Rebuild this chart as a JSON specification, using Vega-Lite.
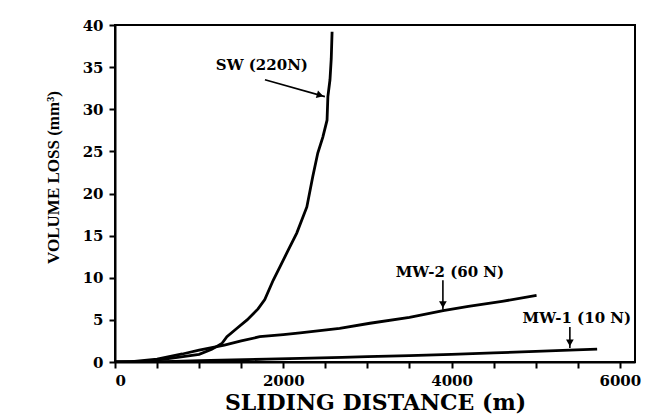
{
  "$schema": "https://vega.github.io/schema/vega-lite/v6.json",
  "width": 520,
  "height": 337,
  "autosize": {"type": "none"},
  "padding": {"left": 115, "top": 25, "right": 11, "bottom": 56},
  "background": "white",
  "config": {
    "view": {"stroke": "black", "strokeWidth": 2},
    "axis": {
      "grid": false,
      "domainColor": "black",
      "domainWidth": 2,
      "tickColor": "black",
      "tickWidth": 2,
      "tickSize": 6,
      "labelFont": "DejaVu Serif",
      "labelFontWeight": "bold",
      "labelFontSize": 15,
      "labelColor": "black",
      "titleFont": "DejaVu Serif",
      "titleFontWeight": "bold",
      "titleColor": "black"
    }
  },
  "datasets": {
    "curves": [
      {"series": "MW-1", "distance": 0, "loss": 0},
      {"series": "MW-1", "distance": 300, "loss": 0.02},
      {"series": "MW-1", "distance": 700, "loss": 0.08},
      {"series": "MW-1", "distance": 1000, "loss": 0.15},
      {"series": "MW-1", "distance": 1400, "loss": 0.24},
      {"series": "MW-1", "distance": 1800, "loss": 0.33},
      {"series": "MW-1", "distance": 2200, "loss": 0.42},
      {"series": "MW-1", "distance": 2700, "loss": 0.55},
      {"series": "MW-1", "distance": 3000, "loss": 0.63},
      {"series": "MW-1", "distance": 3500, "loss": 0.76},
      {"series": "MW-1", "distance": 4000, "loss": 0.9},
      {"series": "MW-1", "distance": 4500, "loss": 1.08},
      {"series": "MW-1", "distance": 5000, "loss": 1.25},
      {"series": "MW-1", "distance": 5400, "loss": 1.42},
      {"series": "MW-1", "distance": 5730, "loss": 1.52},
      {"series": "MW-2", "distance": 0, "loss": 0},
      {"series": "MW-2", "distance": 200, "loss": 0.05},
      {"series": "MW-2", "distance": 500, "loss": 0.35},
      {"series": "MW-2", "distance": 800, "loss": 0.95},
      {"series": "MW-2", "distance": 1000, "loss": 1.4},
      {"series": "MW-2", "distance": 1300, "loss": 2.0},
      {"series": "MW-2", "distance": 1500, "loss": 2.5},
      {"series": "MW-2", "distance": 1720, "loss": 3.0},
      {"series": "MW-2", "distance": 2000, "loss": 3.25},
      {"series": "MW-2", "distance": 2200, "loss": 3.45},
      {"series": "MW-2", "distance": 2670, "loss": 4.0},
      {"series": "MW-2", "distance": 3030, "loss": 4.6},
      {"series": "MW-2", "distance": 3500, "loss": 5.3},
      {"series": "MW-2", "distance": 3900, "loss": 6.1},
      {"series": "MW-2", "distance": 4200, "loss": 6.6},
      {"series": "MW-2", "distance": 4600, "loss": 7.2},
      {"series": "MW-2", "distance": 5010, "loss": 7.9},
      {"series": "SW", "distance": 0, "loss": 0},
      {"series": "SW", "distance": 400, "loss": 0.1},
      {"series": "SW", "distance": 700, "loss": 0.5},
      {"series": "SW", "distance": 1000, "loss": 0.9},
      {"series": "SW", "distance": 1150, "loss": 1.5},
      {"series": "SW", "distance": 1270, "loss": 2.2},
      {"series": "SW", "distance": 1330, "loss": 3.0},
      {"series": "SW", "distance": 1450, "loss": 4.0},
      {"series": "SW", "distance": 1570, "loss": 5.0},
      {"series": "SW", "distance": 1700, "loss": 6.3},
      {"series": "SW", "distance": 1780, "loss": 7.4},
      {"series": "SW", "distance": 1880, "loss": 9.7},
      {"series": "SW", "distance": 1960, "loss": 11.3},
      {"series": "SW", "distance": 2060, "loss": 13.3},
      {"series": "SW", "distance": 2160, "loss": 15.3},
      {"series": "SW", "distance": 2280, "loss": 18.4},
      {"series": "SW", "distance": 2350, "loss": 22.0},
      {"series": "SW", "distance": 2410, "loss": 24.8},
      {"series": "SW", "distance": 2470, "loss": 26.7},
      {"series": "SW", "distance": 2520, "loss": 28.7},
      {"series": "SW", "distance": 2530, "loss": 31.5},
      {"series": "SW", "distance": 2555, "loss": 33.5},
      {"series": "SW", "distance": 2570, "loss": 36.0},
      {"series": "SW", "distance": 2580, "loss": 39.2}
    ],
    "arrows": [
      {"series": "SW", "x": 1782, "y": 33.5, "x2": 2495, "y2": 31.5, "hx": 2438, "hy": 31.66},
      {"series": "MW-2", "x": 3897, "y": 9.7, "x2": 3897, "y2": 6.2, "hx": 3897, "hy": 6.8},
      {"series": "MW-1", "x": 5406, "y": 4.15, "x2": 5406, "y2": 1.66, "hx": 5406, "hy": 2.26}
    ],
    "labels": [
      {"text": "SW (220N)", "x": 1746, "y": 35.2},
      {"text": "MW-2 (60 N)", "x": 3980, "y": 10.7},
      {"text": "MW-1 (10 N)", "x": 5489, "y": 5.2}
    ]
  },
  "layer": [
    {
      "data": {"name": "curves"},
      "mark": {"type": "line", "color": "black", "strokeWidth": 2.8, "clip": true},
      "encoding": {
        "x": {
          "field": "distance", "type": "quantitative",
          "scale": {"domain": [0, 6180], "nice": false},
          "axis": {
            "title": "SLIDING DISTANCE (m)",
            "titleFontSize": 22,
            "titlePadding": 4,
            "values": [0, 500, 1000, 1500, 2000, 2500, 3000, 3500, 4000, 4500, 5000, 5500, 6000],
            "format": "d",
            "labelExpr": "datum.value % 2000 === 0 ? datum.label : ''",
            "labelPadding": 5,
            "labelOverlap": false
          }
        },
        "y": {
          "field": "loss", "type": "quantitative",
          "scale": {"domain": [0, 40], "nice": false},
          "axis": {
            "title": "VOLUME LOSS (mm³)",
            "titleFont": "Liberation Serif",
            "titleFontSize": 17,
            "titlePadding": 20,
            "titleY": 152,
            "values": [0, 2.5, 5, 7.5, 10, 12.5, 15, 17.5, 20, 22.5, 25, 27.5, 30, 32.5, 35, 37.5, 40],
            "labelExpr": "datum.value % 5 === 0 ? datum.label : ''",
            "labelPadding": 6,
            "labelOverlap": false
          }
        },
        "detail": {"field": "series"}
      }
    },
    {
      "data": {"name": "arrows"},
      "mark": {"type": "rule", "color": "black", "strokeWidth": 1.6},
      "encoding": {
        "x": {"field": "x", "type": "quantitative"},
        "y": {"field": "y", "type": "quantitative"},
        "x2": {"field": "x2"},
        "y2": {"field": "y2"}
      }
    },
    {
      "data": {"name": "arrows"},
      "transform": [{"filter": "datum.series === 'SW'"}],
      "mark": {"type": "point", "shape": "triangle-up", "angle": 106, "filled": true, "color": "black", "size": 60, "opacity": 1},
      "encoding": {
        "x": {"field": "hx", "type": "quantitative"},
        "y": {"field": "hy", "type": "quantitative"}
      }
    },
    {
      "data": {"name": "arrows"},
      "transform": [{"filter": "datum.series !== 'SW'"}],
      "mark": {"type": "point", "shape": "triangle-down", "filled": true, "color": "black", "size": 60, "opacity": 1},
      "encoding": {
        "x": {"field": "hx", "type": "quantitative"},
        "y": {"field": "hy", "type": "quantitative"}
      }
    },
    {
      "data": {"name": "labels"},
      "mark": {"type": "text", "font": "DejaVu Serif", "fontWeight": "bold", "fontSize": 15, "color": "black", "align": "center", "baseline": "middle"},
      "encoding": {
        "x": {"field": "x", "type": "quantitative"},
        "y": {"field": "y", "type": "quantitative"},
        "text": {"field": "text"}
      }
    }
  ]
}
